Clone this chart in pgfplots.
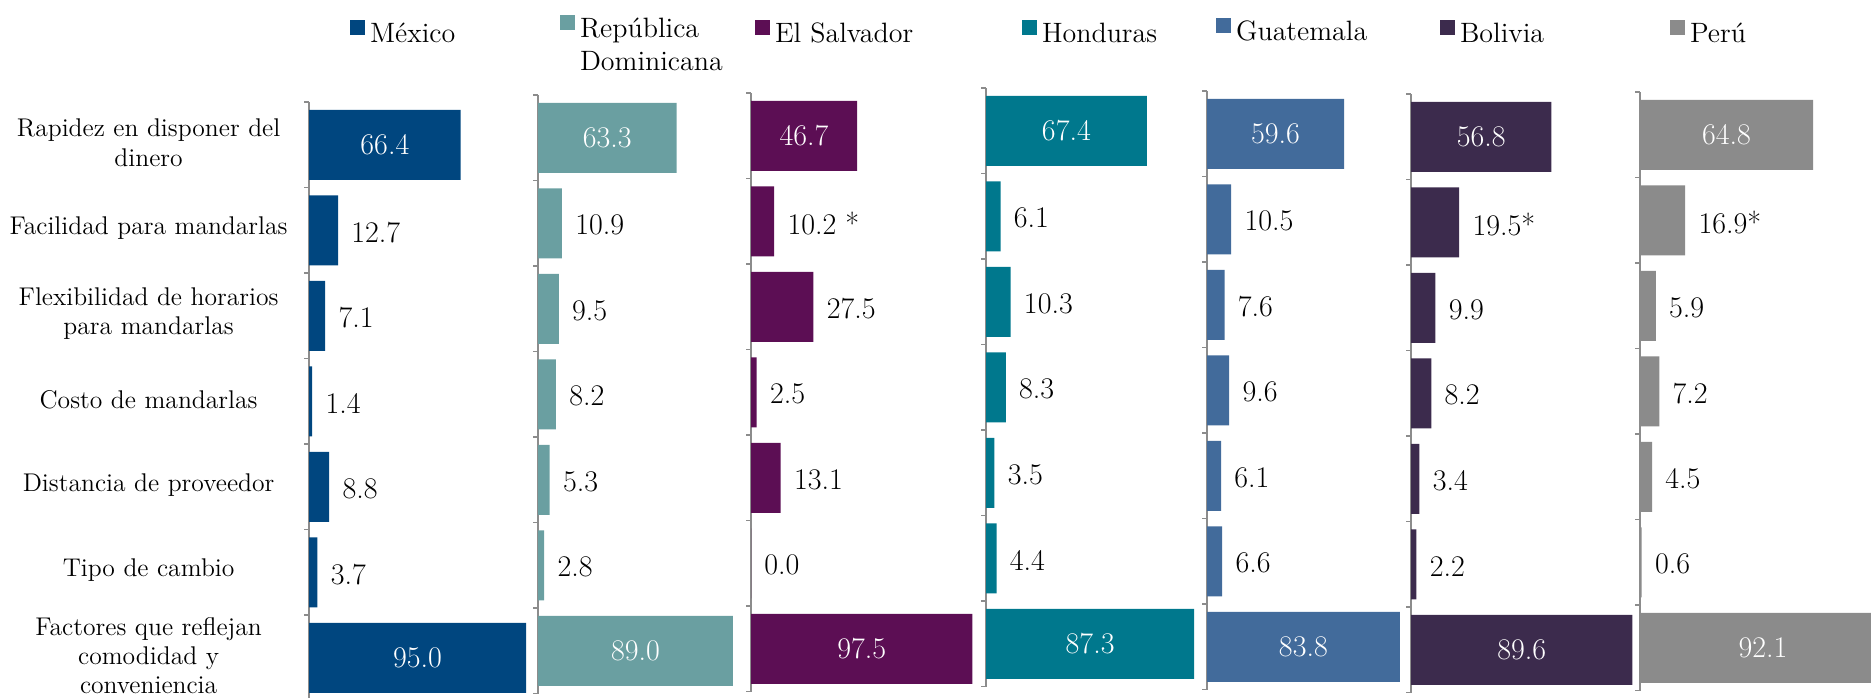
\documentclass[border=0pt]{standalone}
\usepackage{pgfplots}
\pgfplotsset{compat=1.18}
\definecolor{cMx}{HTML}{00467F}
\definecolor{cRD}{HTML}{6A9FA1}
\definecolor{cES}{HTML}{5C0E54}
\definecolor{cHon}{HTML}{00788D}
\definecolor{cGua}{HTML}{426B9B}
\definecolor{cBol}{HTML}{3C2B4D}
\definecolor{cPer}{HTML}{8B8B8B}
\definecolor{axgray}{HTML}{8C8C8C}
\newcommand{\catfont}{\fontsize{12.8}{14.6}\selectfont}
\newcommand{\legfont}{\fontsize{14}{16.5}\selectfont}
\newcommand{\numfont}{\fontsize{15}{18}\selectfont}
\pgfplotsset{
  sqlegend/.style={legend image code/.code={\fill[##1] (0pt,0pt) rectangle (7.5pt,7.5pt);}},
  panel/.style={
    xbar, bar shift=0pt, bar width=35pt,
    y dir=reverse, ymin=-0.5, ymax=6.5, y=42.75pt,
    xmin=0, xmax=100,
    axis x line=none, axis y line=left,
    y axis line style={-, draw=axgray, line width=0.75pt},
    ytick={-0.5,0.5,...,6.5}, yticklabels={},
    tick align=outside, major tick length=2.5pt,
    ytick style={draw=axgray, line width=0.75pt},
    clip=false, anchor=north west,
    legend style={draw=none, fill=none, inner sep=0pt, outer sep=0pt, font=\legfont,
       at={(axis description cs:0,1)}, anchor=north west,
       nodes={inner sep=0pt, text height=9.5pt, text depth=2pt},
       /tikz/every odd column/.append style={column sep=2.5pt}},
    legend cell align=left,
  },
  big/.style={draw=none, bar shift=0pt, nodes near coords, point meta=explicit symbolic,
    visualization depends on=rawx \as \rawx,
    every node near coord/.append style={font=\numfont, text=white, anchor=center, inner sep=0pt, xshift={-0.5*\rawx*\xu}}},
  small/.style={draw=none, bar shift=0pt, nodes near coords, point meta=explicit symbolic,
    every node near coord/.append style={font=\numfont, text=black, anchor=west, inner sep=0pt, xshift=6.5pt, yshift=-1pt}},
}
\begin{document}
\begin{tikzpicture}
\useasboundingbox (0,0) rectangle (935.5pt,-348.5pt);
\clip (0,0) rectangle (935.5pt,-348.5pt);
% Mexico
\def\xu{1.1425pt}
\begin{axis}[panel, at={(154.5pt,-51pt)}, x=\xu,
  legend style={xshift=20.5pt, yshift=41pt},
  extra y ticks={0,1,2,3,4,5,6},
  extra y tick labels={{Rapidez en disponer del\\dinero},{Facilidad para mandarlas},{Flexibilidad de horarios\\para mandarlas},{Costo de mandarlas},{Distancia de proveedor},{Tipo de cambio},{Factores que reflejan\\comodidad y\\conveniencia}},
  extra y tick style={major tick length=0pt, tick style={draw=none}, yticklabel style={font=\catfont, align=center, text width=150pt, inner sep=0pt, xshift=-5pt, yshift=1pt}},
]
\addlegendimage{fill=cMx, draw=none, sqlegend}
\addlegendentry{México}
\addplot[fill=cMx, big] coordinates {(66.4,0)[66.4] (95.0,6)[95.0]};
\addplot[fill=cMx, small] coordinates {(12.7,1)[12.7] (7.1,2)[7.1] (1.4,3)[1.4] (8.8,4)[8.8] (3.7,5)[3.7]};
\end{axis}
% Republica Dominicana
\def\xu{1.095pt}
\begin{axis}[panel, at={(269pt,-47.5pt)}, x=\xu,
  legend style={xshift=11pt, yshift=40pt}]
\addlegendimage{fill=cRD, draw=none, sqlegend}
\addlegendentry{\begin{tabular}[t]{@{}l@{}}República\\Dominicana\end{tabular}}
\addplot[fill=cRD, big] coordinates {(63.3,0)[63.3] (89.0,6)[89.0]};
\addplot[fill=cRD, small] coordinates {(10.9,1)[10.9] (9.5,2)[9.5] (8.2,3)[8.2] (5.3,4)[5.3] (2.8,5)[2.8]};
\end{axis}
% El Salvador
\def\xu{1.135pt}
\begin{axis}[panel, at={(375.5pt,-46.5pt)}, x=\xu,
  legend style={xshift=2pt, yshift=36.5pt}]
\addlegendimage{fill=cES, draw=none, sqlegend}
\addlegendentry{El Salvador}
\addplot[fill=cES, big] coordinates {(46.7,0)[46.7] (97.5,6)[97.5]};
\addplot[fill=cES, small] coordinates {(10.2,1)[10.2 *] (27.5,2)[27.5] (2.5,3)[2.5] (13.1,4)[13.1] (0.0,5)[0.0]};
\end{axis}
% Honduras
\def\xu{1.1925pt}
\begin{axis}[panel, at={(493pt,-44pt)}, x=\xu,
  legend style={xshift=18pt, yshift=34pt}]
\addlegendimage{fill=cHon, draw=none, sqlegend}
\addlegendentry{Honduras}
\addplot[fill=cHon, big] coordinates {(67.4,0)[67.4] (87.3,6)[87.3]};
\addplot[fill=cHon, small] coordinates {(6.1,1)[6.1] (10.3,2)[10.3] (8.3,3)[8.3] (3.5,4)[3.5] (4.4,5)[4.4]};
\end{axis}
% Guatemala
\def\xu{1.15pt}
\begin{axis}[panel, at={(603.5pt,-45.5pt)}, x=\xu,
  legend style={xshift=4.5pt, yshift=36.5pt}]
\addlegendimage{fill=cGua, draw=none, sqlegend}
\addlegendentry{Guatemala}
\addplot[fill=cGua, big] coordinates {(59.6,0)[59.6] (83.8,6)[83.8]};
\addplot[fill=cGua, small] coordinates {(10.5,1)[10.5] (7.6,2)[7.6] (9.6,3)[9.6] (6.1,4)[6.1] (6.6,5)[6.6]};
\end{axis}
% Bolivia
\def\xu{1.235pt}
\begin{axis}[panel, at={(705.5pt,-47pt)}, x=\xu,
  legend style={xshift=14.5pt, yshift=37pt}]
\addlegendimage{fill=cBol, draw=none, sqlegend}
\addlegendentry{Bolivia}
\addplot[fill=cBol, big] coordinates {(56.8,0)[56.8] (89.6,6)[89.6]};
\addplot[fill=cBol, small] coordinates {(19.5,1)[19.5*] (9.9,2)[9.9] (8.2,3)[8.2] (3.4,4)[3.4] (2.2,5)[2.2]};
\end{axis}
% Peru
\def\xu{1.335pt}
\begin{axis}[panel, at={(820pt,-46pt)}, x=\xu,
  legend style={xshift=15pt, yshift=36pt}]
\addlegendimage{fill=cPer, draw=none, sqlegend}
\addlegendentry{Perú}
\addplot[fill=cPer, big] coordinates {(64.8,0)[64.8] (92.1,6)[92.1]};
\addplot[fill=cPer, small] coordinates {(16.9,1)[16.9*] (5.9,2)[5.9] (7.2,3)[7.2] (4.5,4)[4.5] (0.6,5)[0.6]};
\end{axis}
\end{tikzpicture}
\end{document}
